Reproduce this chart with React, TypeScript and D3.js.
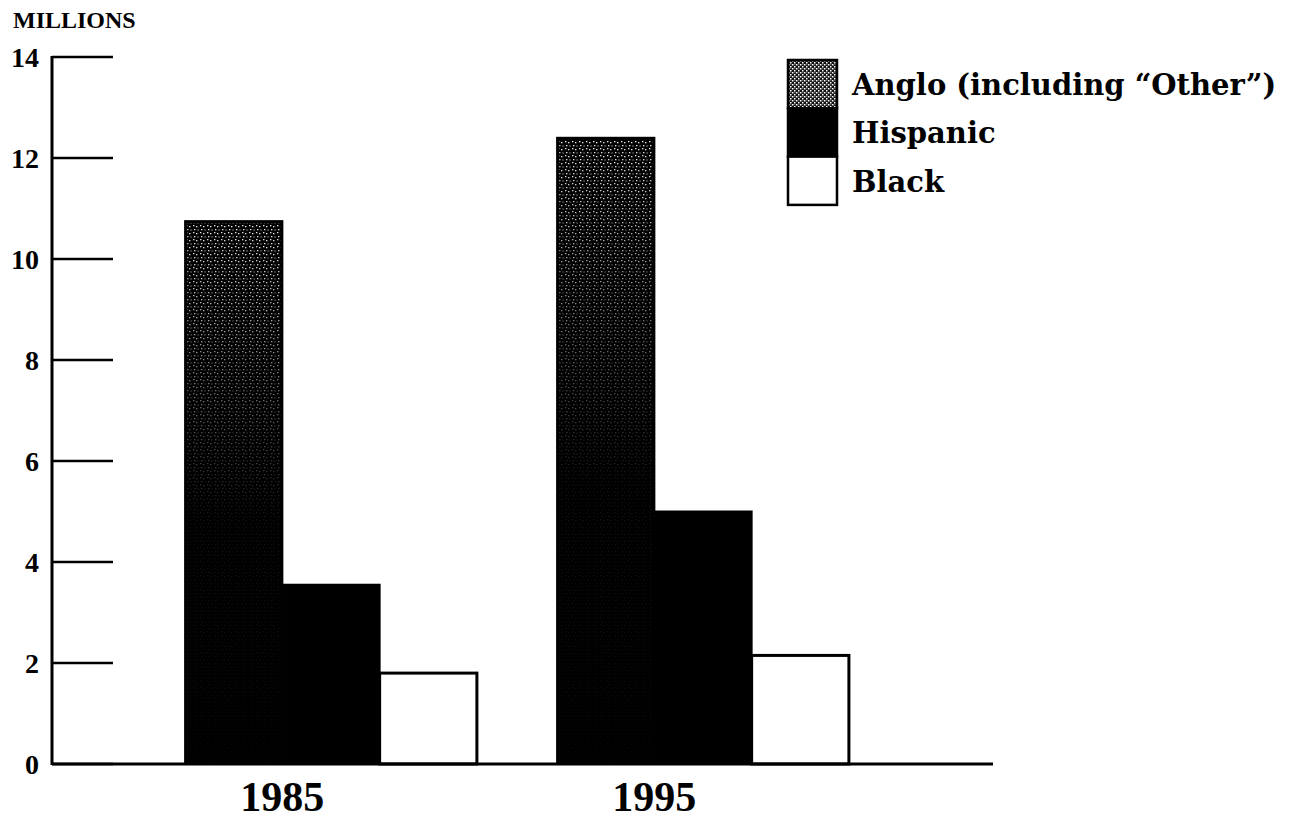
import React from "react";
import * as d3 from "d3";

const years = ["1985", "1995"];
const seriesNames = ["Anglo", "Hispanic", "Black"];
const legendLabels = ["Anglo (including \u201COther\u201D)", "Hispanic", "Black"];
const angloValues = [10.75, 12.4];
const hispanicValues = [3.55, 5.0];
const blackValues = [1.8, 2.15];
const yTicks = [0, 2, 4, 6, 8, 10, 12, 14];
const yLabel = "MILLIONS";

const W = 1290;
const H = 824;

export default function App() {
  const y = d3.scaleLinear().domain([0, 14]).range([764, 57]);
  const x0 = d3
    .scaleBand<string>()
    .domain(years)
    .range([145, 889])
    .paddingInner(0.2156)
    .paddingOuter(0.1078);
  const x1 = d3.scaleBand<string>().domain(seriesNames).range([0, x0.bandwidth()]);

  const valuesBySeries: Record<string, number[]> = {
    Anglo: angloValues,
    Hispanic: hispanicValues,
    Black: blackValues,
  };

  const serif = "'Liberation Serif', 'Times New Roman', serif";
  const legendFont = "'DejaVu Serif', serif";

  const legX = 788;
  const legTop = 60;
  const legH = 48.3;
  const legW = 49;

  return (
    <svg
      width={W}
      height={H}
      style={{ position: "absolute", left: 0, top: 0, background: "#fff" }}
    >
      <defs>
        <pattern id="dots" width="7" height="7" patternUnits="userSpaceOnUse">
          <rect x="1" y="1" width="1.3" height="1.3" fill="#fff" />
          <rect x="4" y="2" width="1.3" height="1.3" fill="#fff" />
          <rect x="2" y="5" width="1.3" height="1.3" fill="#fff" />
          <rect x="5.5" y="5.5" width="1" height="1" fill="#fff" />
        </pattern>
        <pattern id="legendStip" width="4" height="4" patternUnits="userSpaceOnUse">
          <rect width="4" height="4" fill="#111" />
          <rect x="0" y="0" width="1.5" height="1.5" fill="#fff" />
          <rect x="2" y="2" width="1.5" height="1.5" fill="#fff" />
          <rect x="2.5" y="0.3" width="0.8" height="0.8" fill="#ddd" />
        </pattern>
        <linearGradient id="fadeGrad" x1="0" y1="0" x2="0" y2="1">
          <stop offset="0" stopColor="#fff" stopOpacity="1" />
          <stop offset="0.3" stopColor="#fff" stopOpacity="0.5" />
          <stop offset="0.55" stopColor="#fff" stopOpacity="0.08" />
          <stop offset="1" stopColor="#fff" stopOpacity="0.03" />
        </linearGradient>
        <mask id="fadeMask" maskContentUnits="objectBoundingBox">
          <rect x="0" y="0" width="1" height="1" fill="url(#fadeGrad)" />
        </mask>
      </defs>

      {/* Y label */}
      <text x={13} y={28} fontFamily={serif} fontWeight="bold" fontSize={24} fill="#000">
        {yLabel}
      </text>

      {/* Y axis */}
      <line x1={52} x2={52} y1={y(14) - 1} y2={y(0) + 1} stroke="#000" strokeWidth={3} />
      {yTicks.map((t) => (
        <g key={t}>
          <line x1={52} x2={113} y1={y(t)} y2={y(t)} stroke="#000" strokeWidth={2.5} />
          <text
            x={39}
            y={y(t) + 9.5}
            textAnchor="end"
            fontFamily={serif}
            fontWeight="bold"
            fontSize={28}
            fill="#000"
          >
            {t}
          </text>
        </g>
      ))}

      {/* Bars */}
      {years.map((yr, i) => (
        <g key={yr} transform={`translate(${x0(yr)},0)`}>
          {seriesNames.map((s) => {
            const v = valuesBySeries[s][i];
            const bx = x1(s)!;
            const by = y(v);
            const bh = y(0) - y(v);
            const bw = x1.bandwidth();
            if (s === "Black") {
              return (
                <rect
                  key={s}
                  x={bx}
                  y={by}
                  width={bw}
                  height={bh}
                  fill="#fff"
                  stroke="#000"
                  strokeWidth={3}
                />
              );
            }
            return (
              <g key={s}>
                <rect x={bx} y={by} width={bw} height={bh} fill="#000" stroke="#000" strokeWidth={2} />
                {s === "Anglo" && (
                  <rect
                    x={bx + 2}
                    y={by + 2}
                    width={bw - 4}
                    height={bh - 4}
                    fill="url(#dots)"
                    mask="url(#fadeMask)"
                  />
                )}
              </g>
            );
          })}
          <text
            x={x1("Hispanic")!}
            y={811}
            textAnchor="middle"
            fontFamily={serif}
            fontWeight="bold"
            fontSize={42}
            fill="#000"
          >
            {yr}
          </text>
        </g>
      ))}

      {/* Baseline */}
      <line x1={52} x2={993} y1={y(0)} y2={y(0)} stroke="#000" strokeWidth={3} />

      {/* Legend */}
      {seriesNames.map((s, i) => (
        <g key={s}>
          <rect
            x={legX}
            y={legTop + i * legH}
            width={legW}
            height={legH}
            fill={s === "Anglo" ? "url(#legendStip)" : s === "Hispanic" ? "#000" : "#fff"}
            stroke="#000"
            strokeWidth={2.5}
          />
          <text
            x={852}
            y={legTop + i * legH + legH / 2 + 11}
            fontFamily={legendFont}
            fontWeight="bold"
            fontSize={29}
            fill="#000"
          >
            {legendLabels[i]}
          </text>
        </g>
      ))}
    </svg>
  );
}
